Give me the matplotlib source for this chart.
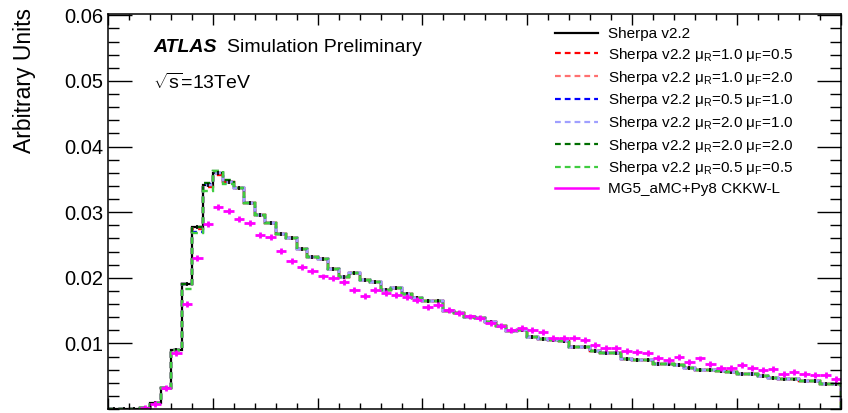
import numpy as np
import matplotlib
matplotlib.use('Agg')
import matplotlib.pyplot as plt
from matplotlib.lines import Line2D
from matplotlib.ticker import MultipleLocator

plt.rcParams['font.family'] = ['Liberation Sans', 'DejaVu Sans']
plt.rcParams['mathtext.fontset'] = 'custom'
plt.rcParams['mathtext.rm'] = 'Liberation Sans'
plt.rcParams['mathtext.it'] = 'Liberation Sans:italic'
plt.rcParams['mathtext.bf'] = 'Liberation Sans:bold'

# 70 bins, width 10
bin_edges = np.arange(0, 710, 10)

sherpa_nominal = [
    0.0, 0.0, 0.0, 0.0001, 0.0009, 0.0032, 0.0090, 0.0191, 0.0277, 0.0341,
    0.0359, 0.0346, 0.0337, 0.0314, 0.0295, 0.0284, 0.0267, 0.0260, 0.0244, 0.0231,
    0.0228, 0.0213, 0.0201, 0.0207, 0.0196, 0.0194, 0.0182, 0.0184, 0.0176, 0.0169,
    0.0165, 0.0165, 0.0150, 0.0146, 0.0140, 0.0138, 0.0133, 0.0126, 0.0119, 0.0120,
    0.0110, 0.0106, 0.0105, 0.0104, 0.0095, 0.0094, 0.0089, 0.0086, 0.0085, 0.0076,
    0.0075, 0.0075, 0.0068, 0.0068, 0.0067, 0.0062, 0.0060, 0.0060, 0.0058, 0.0057,
    0.0053, 0.0053, 0.0050, 0.0047, 0.0045, 0.0045, 0.0042, 0.0042, 0.0038, 0.0038,
]

mg5_ckkwl = [
    0.0, 0.0, 0.0, 0.0001, 0.0008, 0.0032, 0.0086, 0.0160, 0.0230, 0.0282,
    0.0308, 0.0302, 0.0290, 0.0284, 0.0265, 0.0262, 0.0241, 0.0225, 0.0216, 0.0211,
    0.0202, 0.0199, 0.0194, 0.0182, 0.0172, 0.0182, 0.0177, 0.0174, 0.0171, 0.0166,
    0.0155, 0.0159, 0.0151, 0.0146, 0.0141, 0.0139, 0.0131, 0.0127, 0.0121, 0.0123,
    0.0120, 0.0118, 0.0108, 0.0108, 0.0108, 0.0105, 0.0098, 0.0093, 0.0093, 0.0089,
    0.0087, 0.0085, 0.0078, 0.0075, 0.0079, 0.0072, 0.0077, 0.0068, 0.0063, 0.0063,
    0.0067, 0.0062, 0.0059, 0.0061, 0.0053, 0.0057, 0.0054, 0.0052, 0.0052, 0.0046,
]

# scale variations: identical to nominal except around the peak
sherpa_r10_f05 = list(sherpa_nominal)
sherpa_r10_f05[8:11] = [0.0274, 0.0338, 0.0357]
sherpa_r10_f20 = list(sherpa_nominal)
sherpa_r05_f10 = list(sherpa_nominal)
sherpa_r05_f10[8:10] = [0.0269, 0.0343]
sherpa_r20_f10 = list(sherpa_nominal)
sherpa_r20_f20 = list(sherpa_nominal)
sherpa_r20_f20[9:12] = [0.0344, 0.0362, 0.0349]
sherpa_r05_f05 = list(sherpa_nominal)
sherpa_r05_f05[7:12] = [0.0183, 0.0268, 0.0333, 0.0363, 0.0343]

nominal_err = 0.0003
mg5_err = 0.00045

dash = (0, (2.6, 1.8))
variations = [
    (sherpa_r10_f05, '#ff0000', 'Sherpa v2.2 μ$_\\mathregular{R}$=1.0 μ$_\\mathregular{F}$=0.5'),
    (sherpa_r10_f20, '#ff7070', 'Sherpa v2.2 μ$_\\mathregular{R}$=1.0 μ$_\\mathregular{F}$=2.0'),
    (sherpa_r05_f10, '#0000ff', 'Sherpa v2.2 μ$_\\mathregular{R}$=0.5 μ$_\\mathregular{F}$=1.0'),
    (sherpa_r20_f10, '#9f9fff', 'Sherpa v2.2 μ$_\\mathregular{R}$=2.0 μ$_\\mathregular{F}$=1.0'),
    (sherpa_r20_f20, '#006e00', 'Sherpa v2.2 μ$_\\mathregular{R}$=2.0 μ$_\\mathregular{F}$=2.0'),
    (sherpa_r05_f05, '#40cc40', 'Sherpa v2.2 μ$_\\mathregular{R}$=0.5 μ$_\\mathregular{F}$=0.5'),
]

centers = 0.5 * (bin_edges[:-1] + bin_edges[1:])
half_width = 0.5 * np.diff(bin_edges)

fig = plt.figure(figsize=(8.48, 4.13), dpi=100)
ax = fig.add_axes([108.3 / 848, 4 / 413, 733 / 848, 395 / 413])

handles = []
labels = []

ax.stairs(sherpa_nominal, bin_edges, color='black', lw=1.6)
ax.errorbar(centers, sherpa_nominal, yerr=nominal_err, fmt='none', ecolor='black', elinewidth=1.2)
handles.append(Line2D([], [], color='black', lw=1.6))
labels.append('Sherpa v2.2')

for vals, col, lab in variations:
    ax.stairs(vals, bin_edges, color=col, lw=1.7, linestyle=dash)
    handles.append(Line2D([], [], color=col, lw=1.6, linestyle=dash))
    labels.append(lab)

mg = np.array(mg5_ckkwl)
keep = mg > 0
ax.errorbar(centers[keep], mg[keep], xerr=half_width[keep], yerr=mg5_err,
            fmt='none', ecolor='#ff00ff', elinewidth=2.0)
handles.append(Line2D([], [], color='#ff00ff', lw=1.8))
labels.append('MG5_aMC+Py8 CKKW-L')

ax.set_xlim(0, 700)
ax.set_ylim(0, 0.0602)
ax.set_yticks([0.01, 0.02, 0.03, 0.04, 0.05, 0.06])
ax.set_yticklabels(['0.01', '0.02', '0.03', '0.04', '0.05', '0.06'])
ax.yaxis.set_minor_locator(MultipleLocator(0.002))
ax.xaxis.set_major_locator(MultipleLocator(100))
ax.xaxis.set_minor_locator(MultipleLocator(20))

ax.tick_params(axis='both', which='both', direction='in', top=True, right=True, width=1.0)
ax.tick_params(axis='y', which='major', length=17, labelsize=14.5, pad=3.6)
ax.tick_params(axis='y', which='minor', length=8)
ax.tick_params(axis='x', which='major', length=8, labelbottom=False)
ax.tick_params(axis='x', which='minor', length=4.3)
for sp in ax.spines.values():
    sp.set_linewidth(1.1)

fig.text(25 / 848, 1 - 8 / 413, 'Arbitrary Units', rotation=90, ha='center', va='top', fontsize=16.5)

fig.text(153 / 848, 1 - 51.5 / 413, 'ATLAS', fontsize=14, fontweight='bold', fontstyle='italic', va='baseline')
fig.text(227 / 848, 1 - 51.5 / 413, 'Simulation Preliminary', fontsize=14, va='baseline')
fig.text(153 / 848, 1 - 88.5 / 413, r'$\sqrt{\mathregular{s}}$=13TeV', fontsize=14, va='baseline')

ax.legend(handles, labels, loc='upper left', bbox_to_anchor=(0.609, 0.967), frameon=False,
          fontsize=11, handlelength=2.81, handletextpad=0.65, labelspacing=0.31,
          borderpad=0, borderaxespad=0)

fig.savefig('out.png', dpi=100)
